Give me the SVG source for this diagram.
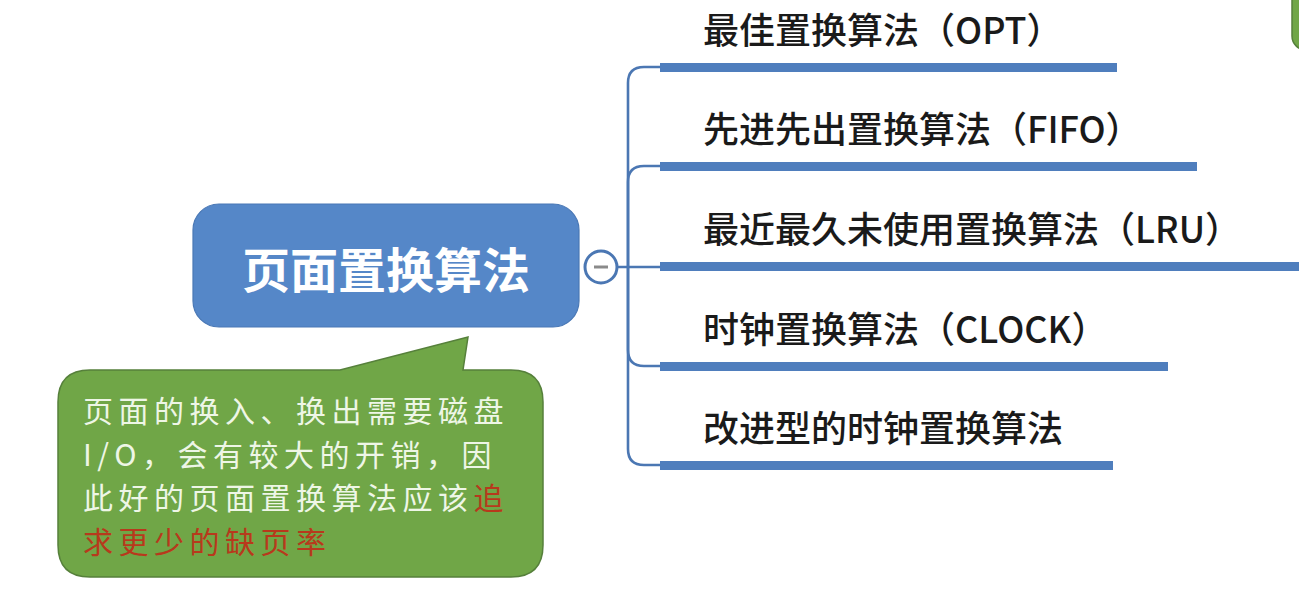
<svg xmlns="http://www.w3.org/2000/svg" width="1299" height="615" viewBox="0 0 1299 615">
<style>
  .cjk { font-family: "Noto Sans CJK SC", "Noto Sans", sans-serif; }
  .branch { font-size: 36px; fill: #1a1a1a; font-weight: 500; }
  .bar { fill: #4f7ebd; }
  .conn { fill: none; stroke: #4b77b3; stroke-width: 2.6; }
  .note { font-size: 30px; fill: #eef6e6; letter-spacing: 5.5px; }
  .red { fill: #b8391c; }
</style>
<rect width="1299" height="615" fill="#ffffff"/>

<g id="connectors">
  <path class="conn" d="M617,267 H662"/>
  <path class="conn" d="M628,267 V83 Q628,67 644,67 H662"/>
  <path class="conn" d="M628,267 V182 Q628,166 644,166 H662"/>
  <path class="conn" d="M628,267 V350 Q628,366 644,366 H662"/>
  <path class="conn" d="M628,267 V449 Q628,465 644,465 H662"/>
</g>

<g id="root">
  <rect x="193" y="204" width="386" height="123" rx="26" ry="26" fill="#5587c8" stroke="#4a78b5" stroke-width="1.2"/>
  <text class="cjk" x="386" y="288" text-anchor="middle" font-size="48" font-weight="bold" fill="#ffffff">页面置换算法</text>
  <circle cx="601" cy="267" r="16" fill="#ffffff" stroke="#4b77b3" stroke-width="3"/>
  <line x1="594" y1="267" x2="608" y2="267" stroke="#8a8a8a" stroke-width="3"/>
</g>

<g id="n-opt">
  <text class="cjk branch" x="703" y="44">最佳置换算法（OPT）</text>
  <rect class="bar" x="660" y="63" width="457" height="9"/>
</g>
<g id="n-fifo">
  <text class="cjk branch" x="703" y="143">先进先出置换算法（FIFO）</text>
  <rect class="bar" x="660" y="162" width="537" height="9"/>
</g>
<g id="n-lru">
  <text class="cjk branch" x="703" y="243">最近最久未使用置换算法（LRU）</text>
  <rect class="bar" x="660" y="262" width="645" height="9"/>
</g>
<g id="n-clock">
  <text class="cjk branch" x="703" y="343">时钟置换算法（CLOCK）</text>
  <rect class="bar" x="660" y="362" width="508" height="9"/>
</g>
<g id="n-improved">
  <text class="cjk branch" x="703" y="442">改进型的时钟置换算法</text>
  <rect class="bar" x="660" y="461" width="453" height="9"/>
</g>

<g id="callout">
  <path d="M90,370 H340 L468,337 L463,370 H511 Q543,370 543,402 V545 Q543,577 511,577 H90 Q58,577 58,545 V402 Q58,370 90,370 Z" fill="#70a647" stroke="#56803b" stroke-width="1.5"/>
  <text class="cjk note" x="83" y="422">页面的换入、换出需要磁盘</text>
  <text class="cjk note" x="83" y="465.5">I/O，会有较大的开销，因</text>
  <text class="cjk note" x="83" y="509">此好的页面置换算法应该<tspan class="red">追</tspan></text>
  <text class="cjk note red" x="83" y="552.5">求更少的缺页率</text>
</g>

<g id="topright-fragment">
  <rect x="1292" y="-40" width="60" height="90" rx="14" ry="14" fill="#70a647" stroke="#56803b" stroke-width="1.5"/>
</g>
</svg>
